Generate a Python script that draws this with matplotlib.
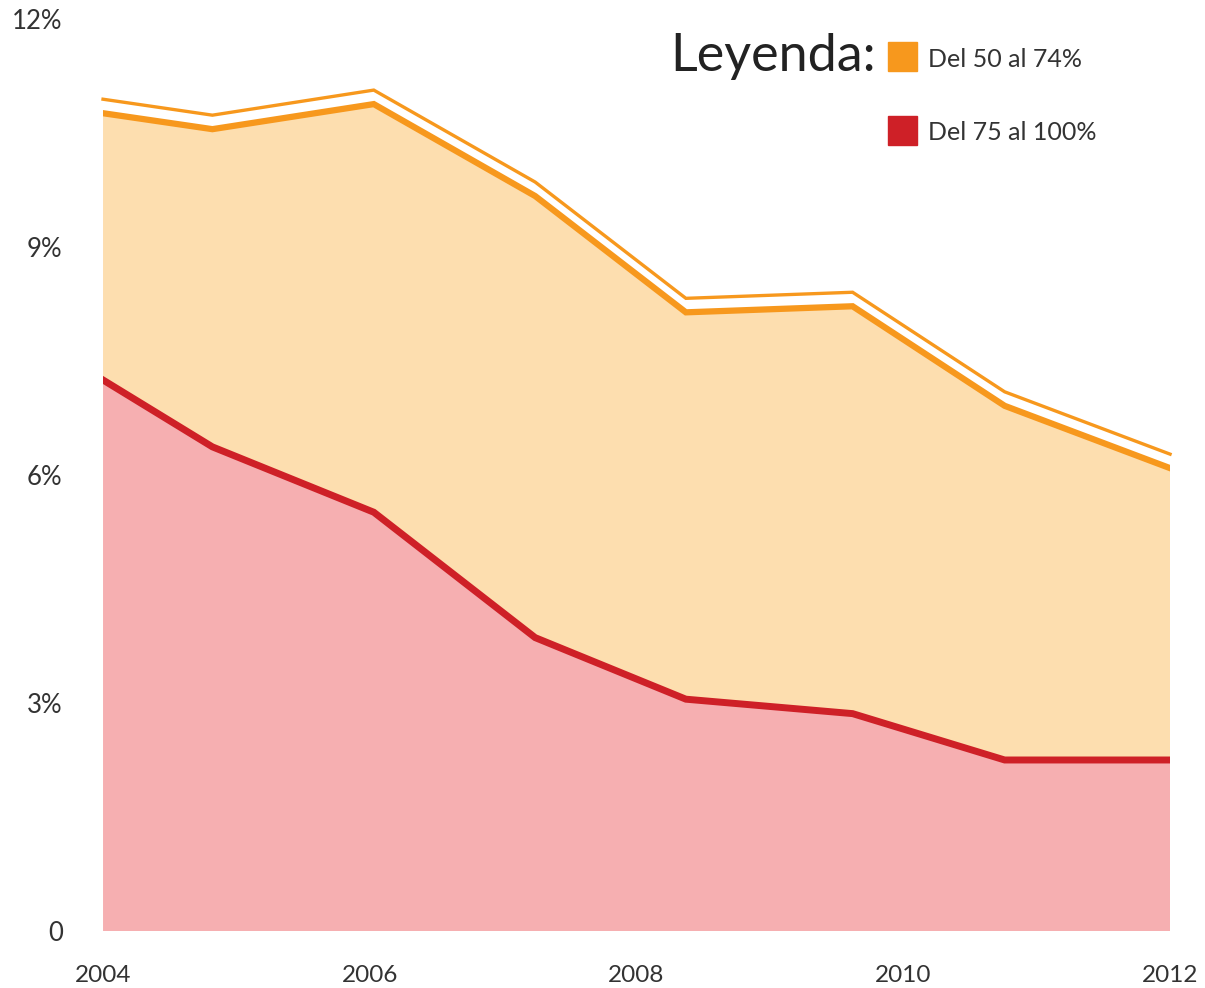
import numpy as np
import matplotlib
matplotlib.use('Agg')
import matplotlib.pyplot as plt
import matplotlib.transforms as mtransforms

plt.rcParams['font.family'] = ['Lato', 'DejaVu Sans']

# Data (share of population, %)
years = [2004.0, 2004.82, 2006.03, 2007.24, 2008.37, 2009.62, 2010.76, 2012.0]
del_75_100 = [7.25, 6.37, 5.51, 3.86, 3.05, 2.86, 2.25, 2.25]
del_50_74 = [3.51, 4.18, 5.37, 5.81, 5.09, 5.36, 4.66, 3.84]

yticks = [0, 3, 6, 9, 12]
ytick_labels = ['0', '3%', '6%', '9%', '12%']
xticks = [2004, 2006, 2008, 2010, 2012]

red = '#CE2027'
pink = '#F6AFB1'
orange = '#F7981D'
light_orange = '#FDDEAF'
text_col = '#333333'

fig = plt.figure(figsize=(12.05, 9.88), dpi=100)
ax = fig.add_axes([0.0855, 0.0577, 0.8855, 0.9231])

top = np.array(del_75_100) + np.array(del_50_74)

ax.stackplot(years, del_75_100, del_50_74, colors=[pink, light_orange], lw=0)
ax.plot(years, del_75_100, color=red, lw=5, solid_joinstyle='miter')
ax.plot(years, top, color=orange, lw=4.5, solid_joinstyle='miter')

# thin echo line above the orange one
shifted = mtransforms.offset_copy(ax.transData, fig=fig, x=0, y=14, units='dots')
ax.plot(years, top, color=orange, lw=2.4, transform=shifted, clip_on=False,
        solid_joinstyle='miter')

ax.set_xlim(2004, 2012)
ax.set_ylim(0, 12)
ax.set_yticks(yticks)
ax.set_yticklabels(ytick_labels)
ax.set_xticks(xticks)
ax.set_xticklabels([str(x) for x in xticks])
ax.tick_params(length=0, colors=text_col)
ax.tick_params(axis='y', pad=29, labelsize=18.5)
ax.tick_params(axis='x', pad=24.5, labelsize=17.5)
for s in ax.spines.values():
    s.set_visible(False)

# legend
fig.text(670 / 1205, 1 - 71 / 988, 'Leyenda:', fontsize=37.5, color='#222222',
         ha='left', va='baseline')
fig.patches.append(plt.Rectangle((888 / 1205, 1 - 71 / 988), 29 / 1205, 29 / 988,
                                 transform=fig.transFigure, color=orange))
fig.patches.append(plt.Rectangle((888 / 1205, 1 - 145 / 988), 29 / 1205, 29 / 988,
                                 transform=fig.transFigure, color=red))
fig.text(928 / 1205, 1 - 67 / 988, 'Del 50 al 74%', fontsize=18, color=text_col,
         ha='left', va='baseline')
fig.text(928 / 1205, 1 - 140 / 988, 'Del 75 al 100%', fontsize=18, color=text_col,
         ha='left', va='baseline')

fig.savefig('out.png', dpi=100)
